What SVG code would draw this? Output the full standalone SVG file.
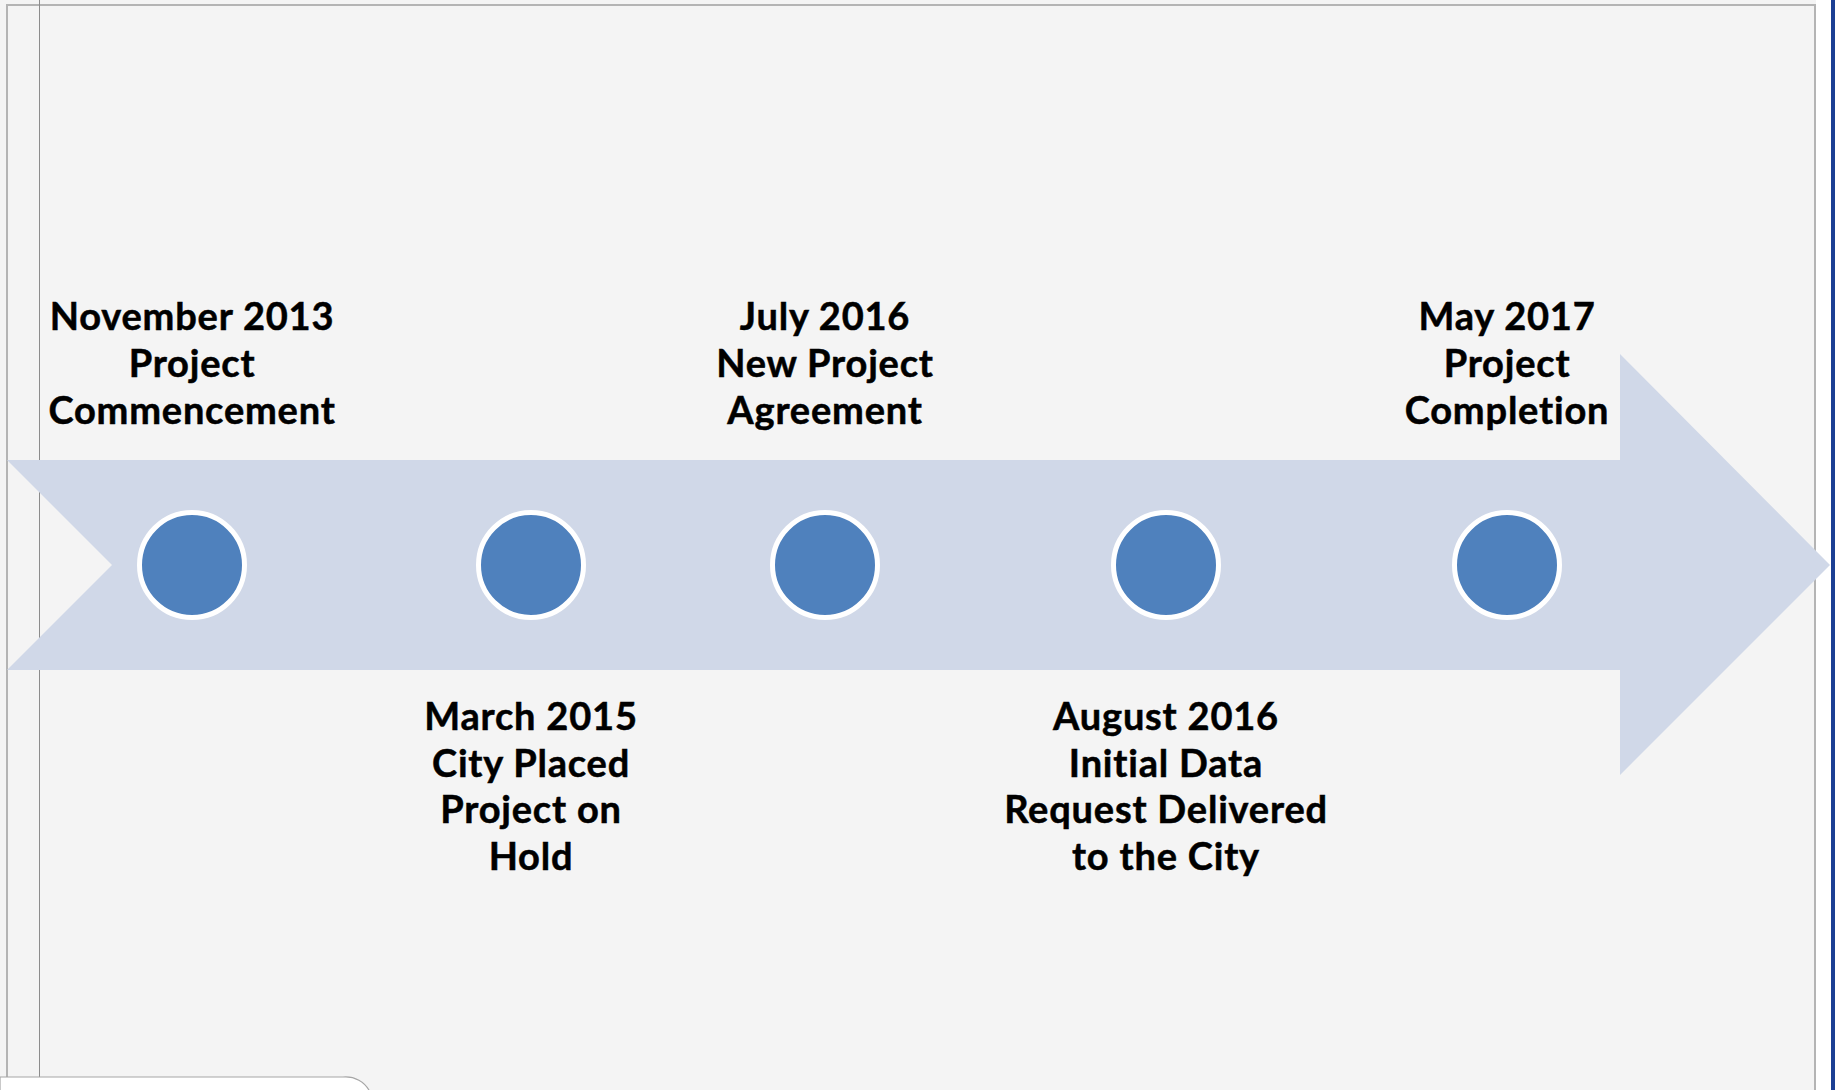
<svg xmlns="http://www.w3.org/2000/svg" width="1835" height="1090" viewBox="0 0 1835 1090">
<style>
.lbl{font-family:Lato,"Liberation Sans",sans-serif;font-weight:bold;font-size:38px;letter-spacing:0.8px;fill:#000;text-anchor:middle;stroke:#000;stroke-width:0.5}
.dot{fill:#4f81bd;stroke:#ffffff;stroke-width:5}
</style>
<rect x="0" y="0" width="1835" height="1090" fill="#f4f4f4"/>
<rect x="1816" y="0" width="19" height="1090" fill="#ffffff"/>
<rect x="1831" y="0" width="4" height="1090" fill="#1c3f94"/>
<path d="M7,1077 L7,5 L1815,5 L1815,1090" fill="none" stroke="#b4b4b4" stroke-width="2"/>
<line x1="39.5" y1="0" x2="39.5" y2="1077" stroke="#8c8c8c" stroke-width="1"/>
<path d="M0,1077 L343,1077 A27,27 0 0 1 370,1092 L0,1092 Z" fill="#ffffff" stroke="#a6a6a6" stroke-width="1.2"/>
<g id="connectors">
<path id="arrow" d="M7,460 L1620,460 L1620,354 L1830,565 L1620,775 L1620,670 L7,670 L112,565 Z" fill="#d0d8e8"/>
</g>
<g id="n1"><circle class="dot" cx="192" cy="565" r="52.5"/>
<text class="lbl"><tspan x="192" y="330">November 2013</tspan><tspan x="192" y="377">Project</tspan><tspan x="192" y="424">Commencement</tspan></text></g>
<g id="n2"><circle class="dot" cx="531" cy="565" r="52.5"/>
<text class="lbl"><tspan x="531" y="730">March 2015</tspan><tspan x="531" y="777">City Placed</tspan><tspan x="531" y="823">Project on</tspan><tspan x="531" y="870">Hold</tspan></text></g>
<g id="n3"><circle class="dot" cx="825" cy="565" r="52.5"/>
<text class="lbl"><tspan x="825" y="330">July 2016</tspan><tspan x="825" y="377">New Project</tspan><tspan x="825" y="424">Agreement</tspan></text></g>
<g id="n4"><circle class="dot" cx="1166" cy="565" r="52.5"/>
<text class="lbl"><tspan x="1166" y="730">August 2016</tspan><tspan x="1166" y="777">Initial Data</tspan><tspan x="1166" y="823">Request Delivered</tspan><tspan x="1166" y="870">to the City</tspan></text></g>
<g id="n5"><circle class="dot" cx="1507" cy="565" r="52.5"/>
<text class="lbl"><tspan x="1507" y="330">May 2017</tspan><tspan x="1507" y="377">Project</tspan><tspan x="1507" y="424">Completion</tspan></text></g>
</svg>
